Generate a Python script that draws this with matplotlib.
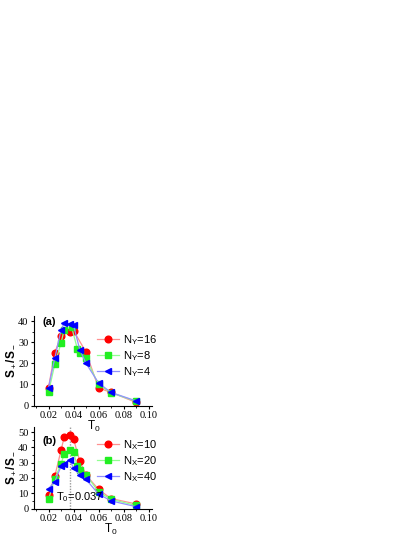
import matplotlib

matplotlib.use("Agg")
import matplotlib.pyplot as plt
from matplotlib.ticker import MultipleLocator

plt.rcParams["font.family"] = ["Liberation Sans", "DejaVu Sans"]
plt.rcParams["mathtext.fontset"] = "custom"
plt.rcParams["mathtext.rm"] = "Liberation Sans"
plt.rcParams["mathtext.it"] = "Liberation Sans:italic"
plt.rcParams["mathtext.bf"] = "Liberation Sans:bold"

# panel (a): different N_Y
t_a16 = [0.02, 0.025, 0.03, 0.0375, 0.04, 0.05, 0.06, 0.07, 0.09]
s_a16 = [8.5, 25.0, 33.0, 35.0, 35.5, 25.3, 8.3, 6.2, 1.5]
t_a8 = [0.02, 0.025, 0.03, 0.0325, 0.0385, 0.043, 0.045, 0.05, 0.06, 0.07, 0.09]
s_a8 = [6.2, 19.5, 29.5, 35.8, 37.2, 27.0, 25.0, 22.3, 10.0, 6.0, 2.0]
t_a4 = [0.02, 0.025, 0.03, 0.0325, 0.0375, 0.04, 0.045, 0.05, 0.06, 0.07, 0.09]
s_a4 = [8.5, 22.3, 35.7, 39.0, 38.6, 38.0, 26.5, 20.0, 10.7, 6.2, 2.2]

# panel (b): different N_X
t_b10 = [0.02, 0.025, 0.03, 0.0325, 0.037, 0.04, 0.045, 0.05, 0.06, 0.07, 0.09]
s_b10 = [9.0, 21.0, 38.0, 46.5, 48.0, 45.5, 31.0, 22.0, 12.5, 6.5, 3.0]
t_b20 = [0.02, 0.025, 0.03, 0.0325, 0.037, 0.04, 0.043, 0.045, 0.05, 0.06, 0.07, 0.09]
s_b20 = [6.0, 19.5, 29.0, 35.5, 38.0, 37.0, 27.5, 25.0, 22.0, 11.0, 6.0, 2.0]
t_b40 = [0.02, 0.025, 0.03, 0.0325, 0.037, 0.04, 0.045, 0.05, 0.06, 0.07, 0.09]
s_b40 = [13.0, 17.5, 27.5, 29.0, 31.5, 26.5, 22.0, 19.0, 9.5, 5.0, 1.2]

t_peak = 0.037

styles = [
    dict(marker="o", color="#ff9090", mfc="#ff0000", mec="#ff0000"),
    dict(marker="s", color="#90ff90", mfc="#22ee22", mec="#22ee22"),
    dict(marker="<", color="#9090ff", mfc="#0000ff", mec="#0000ff"),
]

W, H = 415, 537
fig = plt.figure(figsize=(W / 100, H / 100), dpi=100)


def px_axes(x0, y0, x1, y1):
    ax = fig.add_axes([x0 / W, 1 - y1 / H, (x1 - x0) / W, (y1 - y0) / H])
    ax.patch.set_visible(False)
    return ax


def setup(ax, ymax, ystep, xlab_x, xlab_y):
    ax.set_xlim(0.0084, 0.1024)
    ax.set_ylim(0, ymax)
    for side in ("top", "right"):
        ax.spines[side].set_visible(False)
    ax.xaxis.set_major_locator(MultipleLocator(0.02))
    ax.xaxis.set_minor_locator(MultipleLocator(0.01))
    ax.yaxis.set_major_locator(MultipleLocator(ystep))
    ax.yaxis.set_minor_locator(MultipleLocator(ystep / 2))
    ax.tick_params(which="major", length=2.5, width=0.8, pad=1.5)
    ax.tick_params(which="minor", length=1.6, width=0.6)
    ax.set_xticks([0.02, 0.04, 0.06, 0.08, 0.10])
    ax.set_xticklabels(["0.02", "0.04", "0.06", "0.08", "0.10"])
    for lab in ax.get_xticklabels() + ax.get_yticklabels():
        lab.set_family("Liberation Serif")
        lab.set_fontsize(7.5)
    ax.set_xlabel("T$_0$", fontsize=8.5, labelpad=0)
    ax.xaxis.set_label_coords(xlab_x, xlab_y)
    ax.set_ylabel("S$_+$/S$_-$", fontsize=8.5, fontweight="bold", labelpad=2)
    ax.yaxis.set_label_coords(-0.135, 0.5)


ax1 = px_axes(34, 316, 151.5, 405.5)
for (t, s, lab), st in zip(
        [(t_a16, s_a16, "N$_\\mathrm{Y}$=16"), (t_a8, s_a8, "N$_\\mathrm{Y}$=8"),
         (t_a4, s_a4, "N$_\\mathrm{Y}$=4")], styles):
    ax1.plot(t, s, lw=0.9, ms=4.8, label=lab, **st)
setup(ax1, 42.4, 10, 0.51, -0.148)
ax1.text(0.07, 0.93, "(a)", transform=ax1.transAxes, fontsize=8,
         fontweight="bold", va="center")
ax1.legend(loc="upper left", bbox_to_anchor=(97 / W, 1 - 333 / H),
           bbox_transform=fig.transFigure, frameon=False, fontsize=8,
           handlelength=2.0, handletextpad=0.3, labelspacing=0.2,
           borderpad=0, borderaxespad=0)

ax2 = px_axes(34, 427, 151.5, 508.5)
ax2.axvline(t_peak, color="#999999", lw=1.0, ls=(0, (1, 1)), zorder=1)
for (t, s, lab), st in zip(
        [(t_b10, s_b10, "N$_\\mathrm{X}$=10"), (t_b20, s_b20, "N$_\\mathrm{X}$=20"),
         (t_b40, s_b40, "N$_\\mathrm{X}$=40")], styles):
    ax2.plot(t, s, lw=0.9, ms=4.8, label=lab, **st)
setup(ax2, 53.3, 10, 0.655, -0.16)
ax2.text(0.07, 0.83, "(b)", transform=ax2.transAxes, fontsize=8,
         fontweight="bold", va="center")
ax2.text(0.026, 7.5, "T$_0$=0.037", fontsize=8, va="center")
ax2.legend(loc="upper left", bbox_to_anchor=(97 / W, 1 - 438 / H),
           bbox_transform=fig.transFigure, frameon=False, fontsize=8,
           handlelength=2.0, handletextpad=0.3, labelspacing=0.2,
           borderpad=0, borderaxespad=0)

fig.savefig("out.png", dpi=100)
